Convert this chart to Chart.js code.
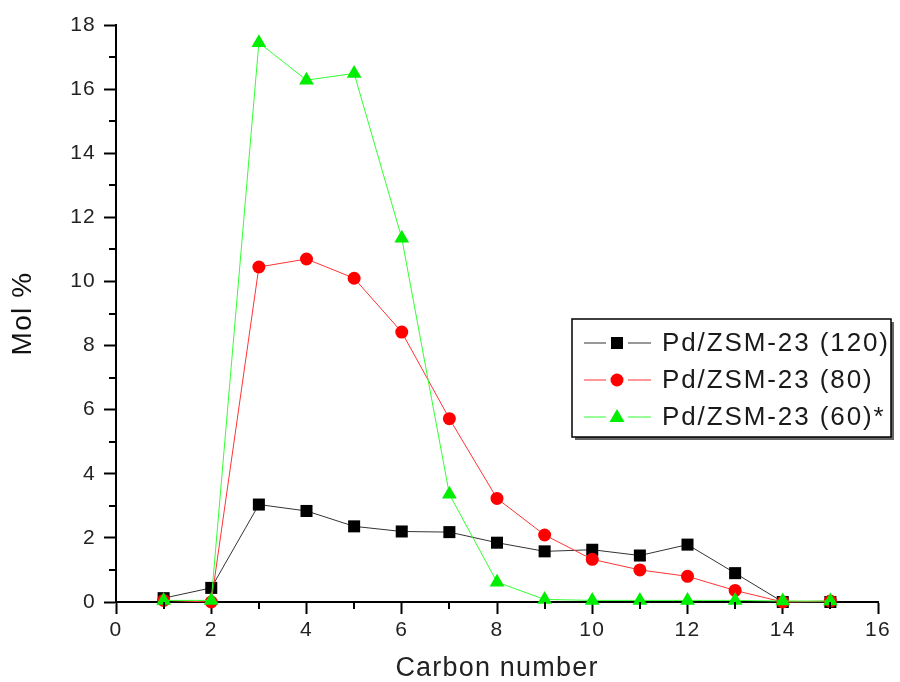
<!DOCTYPE html>
<html>
<head>
<meta charset="utf-8">
<script src="https://cdn.jsdelivr.net/npm/chart.js@4/dist/chart.umd.min.js"></script>
<style>
  html, body { margin: 0; padding: 0; background: #fff; }
  #wrap { width: 900px; height: 682px; }
</style>
</head>
<body>
<div id="wrap"><canvas id="c" width="900" height="682"></canvas></div>
<script>
// Carbon-number distribution of products (mol %)
const carbonNumbers = [1, 2, 3, 4, 5, 6, 7, 8, 9, 10, 11, 12, 13, 14, 15];
const seriesLabels = ['Pd/ZSM-23 (120)', 'Pd/ZSM-23 (80)', 'Pd/ZSM-23 (60)*'];
const mol120 = [0.12, 0.44, 3.04, 2.84, 2.36, 2.2, 2.18, 1.85, 1.58, 1.63, 1.45, 1.79, 0.9, 0.0, 0.0];
const mol80  = [0.05, 0.0, 10.45, 10.7, 10.1, 8.42, 5.72, 3.23, 2.09, 1.33, 1.0, 0.8, 0.36, 0.0, 0.03];
const mol60  = [0.05, 0.05, 17.45, 16.28, 16.49, 11.35, 3.36, 0.62, 0.08, 0.05, 0.05, 0.05, 0.05, 0.03, 0.03];
const xTicks = [0, 2, 4, 6, 8, 10, 12, 14, 16];
const yTicks = [0, 2, 4, 6, 8, 10, 12, 14, 16, 18];

const FONT = '"Liberation Sans", Arial, sans-serif';

function pts(values) {
  return carbonNumbers.map((x, i) => ({ x: x, y: values[i] }));
}

// Slightly spaced-out lettering for all axis text
const textSpacing = {
  id: 'textSpacing',
  beforeDraw(chart) { chart.ctx.letterSpacing = '1.2px'; }
};

// Short minor ticks at the odd values of both axes
const minorTicks = {
  id: 'minorTicks',
  afterDraw(chart) {
    const ctx = chart.ctx;
    const xs = chart.scales.x, ys = chart.scales.y;
    const area = chart.chartArea;
    ctx.save();
    ctx.strokeStyle = '#000';
    ctx.lineWidth = 2;
    ctx.beginPath();
    for (let v = 1; v < 16; v += 2) {
      const px = Math.round(xs.getPixelForValue(v));
      ctx.moveTo(px, area.bottom);
      ctx.lineTo(px, area.bottom + 7);
    }
    for (let v = 1; v < 18; v += 2) {
      const py = Math.round(ys.getPixelForValue(v));
      ctx.moveTo(area.left, py);
      ctx.lineTo(area.left - 7, py);
    }
    ctx.stroke();
    ctx.restore();
  }
};

function drawMarker(ctx, style, x, y, color) {
  ctx.fillStyle = color;
  ctx.beginPath();
  if (style === 'rect') {
    ctx.rect(x - 6, y - 6, 12, 12);
  } else if (style === 'circle') {
    ctx.arc(x, y, 6.5, 0, Math.PI * 2);
  } else {
    ctx.moveTo(x - 7.5, y + 5);
    ctx.lineTo(x + 7.5, y + 5);
    ctx.lineTo(x, y - 8);
    ctx.closePath();
  }
  ctx.fill();
}

// Boxed legend inside the plot, line-marker-line samples
const boxLegend = {
  id: 'boxLegend',
  afterDraw(chart) {
    const ctx = chart.ctx;
    const bx = 572, by = 319, bw = 319, bh = 118;
    ctx.save();
    ctx.fillStyle = '#666';
    ctx.fillRect(bx + 3, by + 3, bw, bh);
    ctx.fillStyle = '#fff';
    ctx.fillRect(bx, by, bw, bh);
    ctx.strokeStyle = '#000';
    ctx.lineWidth = 1.5;
    ctx.strokeRect(bx, by, bw, bh);
    const rows = [343, 380, 417];
    chart.data.datasets.forEach((ds, i) => {
      const y = rows[i];
      ctx.strokeStyle = ds.borderColor;
      ctx.lineWidth = 1.2;
      ctx.beginPath();
      ctx.moveTo(584, y); ctx.lineTo(606, y);
      ctx.moveTo(628, y); ctx.lineTo(651, y);
      ctx.stroke();
      drawMarker(ctx, ds.pointStyle, 617, y, ds.pointBackgroundColor);
      ctx.fillStyle = '#1a1a1a';
      ctx.font = '26px ' + FONT;
      ctx.letterSpacing = '1.9px';
      ctx.textBaseline = 'middle';
      ctx.textAlign = 'left';
      ctx.fillText(ds.label, 662, y + 1);
    });
    ctx.restore();
  }
};

new Chart(document.getElementById('c'), {
  type: 'line',
  data: {
    datasets: [
      {
        label: seriesLabels[0], data: pts(mol120), order: 2,
        borderColor: '#333333', borderWidth: 1,
        pointStyle: 'rect', pointRadius: 8.5, pointBackgroundColor: '#000', pointBorderColor: '#000', pointBorderWidth: 0,
        clip: false
      },
      {
        label: seriesLabels[1], data: pts(mol80), order: 1,
        borderColor: '#ff3333', borderWidth: 1,
        pointStyle: 'circle', pointRadius: 6.5, pointBackgroundColor: '#ff0000', pointBorderColor: '#ff0000', pointBorderWidth: 0,
        clip: false
      },
      {
        label: seriesLabels[2], data: pts(mol60), order: 0,
        borderColor: '#33ff33', borderWidth: 1,
        pointStyle: 'triangle', pointRadius: 8.5, pointBackgroundColor: '#00ee00', pointBorderColor: '#00ee00', pointBorderWidth: 0,
        clip: false
      }
    ]
  },
  options: {
    responsive: false,
    animation: false,
    layout: { padding: { top: 25, right: 22, left: 0, bottom: 0 } },
    plugins: { legend: { display: false }, tooltip: { enabled: false } },
    scales: {
      x: {
        type: 'linear', min: 0, max: 16,
        afterBuildTicks(scale) { scale.ticks = xTicks.map(v => ({ value: v })); },
        afterFit(scale) { scale.height = 80; },
        grid: { drawOnChartArea: false, drawTicks: true, tickLength: 12, tickWidth: 2, tickColor: '#000' },
        border: { display: true, color: '#000', width: 2 },
        ticks: { color: '#222', font: { family: FONT, size: 21 }, padding: 4, maxRotation: 0 },
        title: { display: true, text: 'Carbon number', color: '#222', font: { family: FONT, size: 27, lineHeight: 1 }, padding: { top: 0, bottom: 0 } }
      },
      y: {
        type: 'linear', min: 0, max: 18,
        afterBuildTicks(scale) { scale.ticks = yTicks.map(v => ({ value: v })); },
        afterFit(scale) { scale.width = 116; },
        grid: { drawOnChartArea: false, drawTicks: true, tickLength: 12, tickWidth: 2, tickColor: '#000' },
        border: { display: true, color: '#000', width: 2 },
        ticks: { color: '#222', font: { family: FONT, size: 21 }, padding: 8 },
        title: { display: true, text: 'Mol %', color: '#111', font: { family: FONT, size: 28 }, padding: { top: 6, bottom: 0 } }
      }
    }
  },
  plugins: [textSpacing, minorTicks, boxLegend]
});
</script>
</body>
</html>
